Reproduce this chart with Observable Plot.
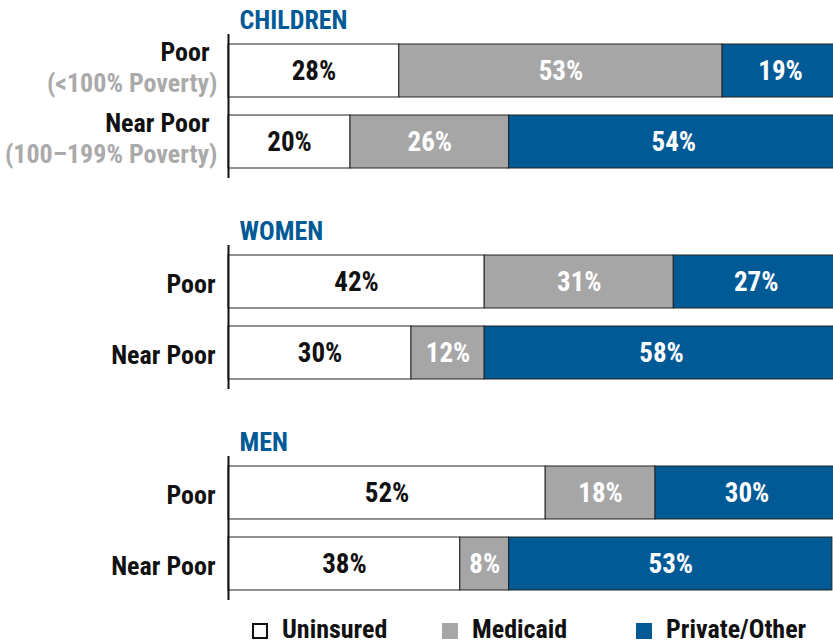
<!DOCTYPE html>
<html>
<head>
<meta charset="utf-8">
<script src="https://cdn.jsdelivr.net/npm/d3@7"></script>
<script src="https://cdn.jsdelivr.net/npm/@observablehq/plot@0.6"></script>
<style>
  html, body { margin: 0; padding: 0; background: white; }
  body { width: 833px; height: 643px; overflow: hidden; font-family: Roboto, sans-serif; font-stretch: 75%; font-weight: bold; }
  #chart svg { display: block; font-stretch: 75%; }
  #legend { position: relative; height: 30px; font-size: 26px; color: #111; }
  #legend .item { position: absolute; top: 3px; line-height: 26px; white-space: nowrap; }
  #legend .sw { display: inline-block; width: 16px; height: 16px; margin-right: 14px; vertical-align: -1px; box-sizing: border-box; }
</style>
</head>
<body>
<div id="chart"></div>
<div id="legend"></div>
<script>
const groups = ["CHILDREN", "WOMEN", "MEN"];
const levels = ["Poor", "Near Poor"];
const types = ["Uninsured", "Medicaid", "Private/Other"];
const colors = ["#ffffff", "#a6a6a6", "#005a96"];

const rowGroup = ["CHILDREN", "CHILDREN", "WOMEN", "WOMEN", "MEN", "MEN"];
const rowLevel = ["Poor", "Near Poor", "Poor", "Near Poor", "Poor", "Near Poor"];
const uninsured = [28, 20, 42, 30, 52, 38];
const medicaid = [53, 26, 31, 12, 18, 8];
const privateOther = [19, 54, 27, 58, 30, 53];
const childSubLabels = ["(<100% Poverty)", "(100–199% Poverty)"];

const series = [uninsured, medicaid, privateOther];
const data = [];
rowGroup.forEach((g, i) => {
  types.forEach((t, j) => {
    data.push({group: g, level: rowLevel[i], type: t, value: series[j][i]});
  });
});

const labelRows = rowGroup.map((g, i) => ({group: g, level: rowLevel[i]}));
const childRows = labelRows.filter(d => d.group === "CHILDREN")
  .map((d, i) => ({...d, sub: childSubLabels[i]}));
const otherRows = labelRows.filter(d => d.group !== "CHILDREN");

const blue = "#005a96";

const chart = Plot.plot({
  width: 833,
  height: 613,
  marginTop: 34,
  marginBottom: 13,
  marginLeft: 228,
  marginRight: 0,
  style: {fontFamily: "Roboto, sans-serif", fontWeight: "bold", fontSize: "25px", background: "white", fontStretch: "75%"},
  x: {domain: [0, 100], range: [228, 838], axis: null},
  y: {domain: levels, paddingInner: 0.254, paddingOuter: 0.141, round: false, axis: null},
  fy: {domain: groups, paddingInner: 0.3175, paddingOuter: 0, round: false, axis: null},
  color: {domain: types, range: colors},
  marks: [
    Plot.barX(data, {x: "value", y: "level", fy: "group", fill: "type", stroke: "#222", strokeWidth: 1, order: types}),
    Plot.text(data, Plot.stackX({x: "value", y: "level", fy: "group", z: "type", order: types,
      text: d => d.type === "Uninsured" ? d.value + "%" : null, fill: "#111", fontSize: 27})),
    Plot.text(data, Plot.stackX({x: "value", y: "level", fy: "group", z: "type", order: types,
      text: d => d.type !== "Uninsured" ? d.value + "%" : null, fill: "white", fontSize: 27})),
    Plot.ruleX([0], {stroke: "#111", strokeWidth: 2}),
    Plot.text(groups, {fy: d => d, text: d => d, frameAnchor: "top-left", lineAnchor: "middle", dx: 11, dy: -14,
      textAnchor: "start", fill: blue, fontSize: 26}),
    Plot.text(childRows, {fy: "group", y: "level", text: "level", frameAnchor: "left", dx: -19, dy: -18,
      textAnchor: "end", fill: "#111", fontSize: 26}),
    Plot.text(childRows, {fy: "group", y: "level", text: "sub", frameAnchor: "left", dx: -11, dy: 13,
      textAnchor: "end", fill: "#aaaaaa", fontSize: 26}),
    Plot.text(otherRows, {fy: "group", y: "level", text: "level", frameAnchor: "left", dx: -13, dy: 3,
      textAnchor: "end", fill: "#111", fontSize: 26})
  ]
});
document.getElementById("chart").appendChild(chart);

const legendLeft = [252, 442, 636];
const legend = document.getElementById("legend");
types.forEach((t, i) => {
  const item = document.createElement("div");
  item.className = "item";
  item.style.left = legendLeft[i] + "px";
  const sw = document.createElement("span");
  sw.className = "sw";
  sw.style.background = colors[i];
  if (i === 0) sw.style.border = "2px solid #111";
  item.appendChild(sw);
  item.appendChild(document.createTextNode(t));
  legend.appendChild(item);
});
</script>
</body>
</html>
